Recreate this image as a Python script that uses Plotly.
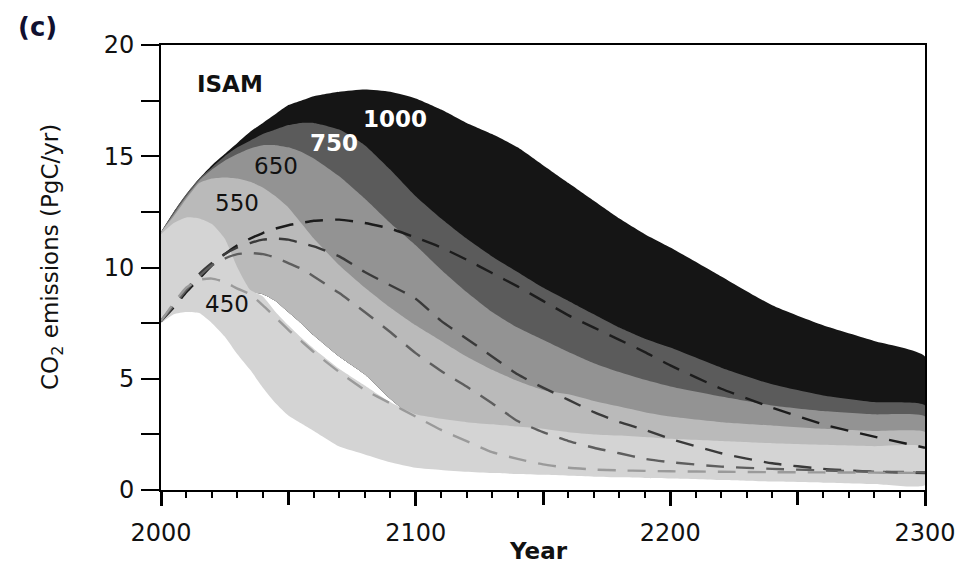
import plotly.graph_objects as go

# ---------------- data ----------------
YEARS = [2000, 2005, 2010, 2015, 2020, 2025, 2030, 2035, 2040, 2045, 2050, 2055, 2060,
         2070, 2080, 2090, 2100, 2110, 2120, 2130, 2140, 2150, 2160, 2170, 2180, 2190,
         2200, 2220, 2240, 2260, 2280, 2300]

# upper edges of the shaded ranges (PgC/yr)
UP_1000 = [11.6, 12.5, 13.3, 14.0, 14.6, 15.1, 15.6, 16.1, 16.5, 16.9, 17.3, 17.5, 17.7,
           17.9, 18.0, 17.9, 17.6, 17.1, 16.5, 16.0, 15.4, 14.6, 13.8, 13.0, 12.2, 11.5,
           10.9, 9.6, 8.3, 7.4, 6.7, 6.0]
UP_750 = [11.6, 12.5, 13.3, 14.0, 14.5, 15.0, 15.4, 15.7, 16.0, 16.2, 16.4, 16.5, 16.5,
          16.2, 15.5, 14.4, 13.2, 12.2, 11.3, 10.5, 9.8, 9.1, 8.5, 7.9, 7.3, 6.8,
          6.4, 5.5, 4.75, 4.25, 3.95, 3.8]
UP_650 = [11.6, 12.4, 13.2, 13.9, 14.4, 14.8, 15.1, 15.35, 15.5, 15.5, 15.4, 15.2, 14.9,
          14.1, 13.1, 12.0, 11.0, 9.9, 8.9, 8.0, 7.3, 6.75, 6.2, 5.7, 5.3, 4.95,
          4.65, 4.2, 3.8, 3.55, 3.4, 3.3]
UP_550 = [11.6, 12.3, 13.1, 13.8, 14.0, 14.05, 14.0, 13.85, 13.6, 13.2, 12.7, 12.0, 11.3,
          10.1, 9.1, 8.2, 7.4, 6.7, 6.0, 5.4, 4.9, 4.5, 4.3, 4.0, 3.75, 3.5,
          3.3, 3.05, 2.9, 2.75, 2.65, 2.6]
UP_450 = [11.5, 12.0, 12.25, 12.2, 11.95, 11.3, 10.0, 9.0, 8.7, 8.0, 7.4, 6.85, 6.35,
          5.45, 4.7, 3.95, 3.4, 3.2, 3.05, 2.95, 2.85, 2.75, 2.6, 2.5, 2.45, 2.38,
          2.3, 2.2, 2.1, 2.03, 1.97, 1.93]

# lower edges
LO_550 = [9.0, 9.3, 9.5, 9.5, 9.4, 9.2, 9.0, 8.9, 8.8, 8.5, 8.0, 7.5, 6.95,
          6.0, 5.2, 4.1, 3.2, 2.9, 2.7, 2.6, 2.5, 2.45, 2.4, 2.35, 2.3, 2.2,
          2.1, 2.0, 1.9, 1.8, 1.7, 1.6]
LO_450 = [7.5, 7.9, 8.0, 7.95, 7.5, 6.9, 6.1, 5.4, 4.6, 3.9, 3.35, 3.0, 2.65,
          1.95, 1.6, 1.25, 1.0, 0.9, 0.82, 0.76, 0.72, 0.68, 0.64, 0.6, 0.57, 0.54,
          0.52, 0.45, 0.38, 0.33, 0.27, 0.22]

# reference cases (dashed)
REF_1000 = [7.6, 8.2, 8.9, 9.5, 10.1, 10.6, 11.0, 11.3, 11.55, 11.75, 11.9, 12.0, 12.1,
            12.15, 12.0, 11.75, 11.35, 10.9, 10.35, 9.75, 9.15, 8.5, 7.85, 7.3, 6.75, 6.2,
            5.6, 4.55, 3.7, 2.95, 2.4, 1.9]
REF_750 = [7.6, 8.3, 9.0, 9.7, 10.2, 10.6, 10.9, 11.1, 11.25, 11.3, 11.25, 11.1, 10.95,
           10.5, 9.8, 9.2, 8.6, 7.6, 6.8, 6.0, 5.2, 4.6, 4.05, 3.5, 3.05, 2.7,
           2.3, 1.65, 1.2, 0.95, 0.82, 0.76]
REF_650 = [7.6, 8.3, 9.0, 9.6, 10.1, 10.4, 10.6, 10.65, 10.6, 10.45, 10.2, 9.95, 9.6,
           8.85, 8.0, 7.1, 6.15, 5.35, 4.65, 3.9, 3.1, 2.6, 2.2, 1.9, 1.65, 1.4,
           1.25, 1.05, 0.95, 0.88, 0.82, 0.8]
REF_550 = [7.6, 8.4, 9.1, 9.45, 9.5, 9.35, 9.05, 8.8, 8.3, 7.75, 7.2, 6.7, 6.2,
           5.3, 4.5, 3.9, 3.3, 2.7, 2.2, 1.7, 1.4, 1.15, 1.0, 0.92, 0.88, 0.86,
           0.84, 0.82, 0.8, 0.79, 0.78, 0.77]

LEVELS = ["1000", "750", "650", "550", "450"]
BAND_UPPER = [UP_1000, UP_750, UP_650, UP_550, UP_450]
BAND_LOWER = [LO_550, LO_550, LO_550, LO_550, LO_450]
BAND_COLORS = ["#151515", "#5b5b5b", "#939393", "#bababa", "#d4d4d4"]

REFS = [REF_1000, REF_750, REF_650, REF_550]
REF_COLORS = ["#1c1c1c", "#3a3a3a", "#5e5e5e", "#9a9a9a"]

X_LABEL_STEP = 100   # labelled ticks
X_MAJOR_STEP = 50    # long tick marks
X_MINOR_STEP = 10    # short tick marks

X_TITLE = "<b>Year</b>"
Y_TITLE = "CO<sub>2</sub> emissions (PgC/yr)"

# label positions (year, value)
LEVEL_LABELS = [("1000", 2092, 16.67, "white", True, 23),
                ("750", 2068, 15.6, "white", True, 23),
                ("650", 2045, 14.55, "#111111", False, 23),
                ("550", 2030, 12.9, "#111111", False, 23),
                ("450", 2026, 8.35, "#111111", False, 23)]

FONT = "DejaVu Sans"

fig = go.Figure()

for lvl, up, lo, col in zip(LEVELS, BAND_UPPER, BAND_LOWER, BAND_COLORS):
    fig.add_trace(go.Scatter(
        x=YEARS + YEARS[::-1], y=up + lo[::-1],
        fill="toself", fillcolor=col, mode="lines",
        line=dict(width=0, color=col, shape="spline", smoothing=0.5),
        hoverinfo="skip", showlegend=False, name=lvl))

for ref, col in zip(REFS, REF_COLORS):
    fig.add_trace(go.Scatter(
        x=YEARS, y=ref, mode="lines",
        line=dict(color=col, width=2.4, dash="18px,12px", shape="spline", smoothing=0.5),
        hoverinfo="skip", showlegend=False))

ann = []
for txt, xv, yv, col, bold, sz in LEVEL_LABELS:
    ann.append(dict(x=xv, y=yv, xref="x", yref="y", text=f"<b>{txt}</b>" if bold else txt,
                    showarrow=False, xanchor="center", yanchor="middle",
                    font=dict(family=FONT, size=sz, color=col)))
ann.append(dict(x=2027, y=18.25, xref="x", yref="y", text="<b>ISAM</b>", showarrow=False,
                xanchor="center", yanchor="middle",
                font=dict(family=FONT, size=23, color="#111111")))
ann.append(dict(x=-0.1623, y=1.0404, xref="paper", yref="paper", text="<b>(c)</b>",
                showarrow=False, xanchor="center", yanchor="middle",
                font=dict(family=FONT, size=26, color="#101030")))
ann.append(dict(x=-0.1427, y=0.5236, xref="paper", yref="paper", text=Y_TITLE,
                textangle=-90, showarrow=False, xanchor="center", yanchor="middle",
                font=dict(family=FONT, size=23, color="#111111")))
ann.append(dict(x=0.4935, y=-0.137, xref="paper", yref="paper", text=X_TITLE,
                showarrow=False, xanchor="center", yanchor="middle",
                font=dict(family=FONT, size=23, color="#111111")))

fig.update_layout(
    width=958, height=563,
    margin=dict(l=161, r=33, t=45, b=73, autoexpand=False),
    paper_bgcolor="white", plot_bgcolor="white",
    annotations=ann,
    font=dict(family=FONT, size=22, color="#111111"),
    xaxis=dict(
        range=[2000, 2300], tickmode="linear", tick0=2000, dtick=X_LABEL_STEP,
        ticks="outside", ticklen=14, tickwidth=2.5, tickcolor="black",
        minor=dict(dtick=X_MINOR_STEP, tick0=2000, ticks="outside", ticklen=6,
                   tickwidth=1.5, tickcolor="black"),
        showline=True, linewidth=2, linecolor="black", mirror=True, automargin=False,
        showgrid=False, zeroline=False, ticklabelstandoff=6,
        tickfont=dict(family=FONT, size=24, color="#111111")),
    xaxis2=dict(
        range=[2000, 2300], matches="x", overlaying="x", side="bottom", anchor="y",
        tickmode="linear", tick0=2000, dtick=X_MAJOR_STEP,
        ticks="outside", ticklen=14, tickwidth=2.5, tickcolor="black",
        showticklabels=False, showline=False, showgrid=False, zeroline=False,
        automargin=False),
    yaxis=dict(
        range=[0, 20], tickmode="linear", tick0=0, dtick=5,
        ticks="outside", ticklen=18, tickwidth=2, tickcolor="black",
        minor=dict(dtick=2.5, tick0=0, ticks="outside", ticklen=18, tickwidth=1.5,
                   tickcolor="black"),
        showline=True, linewidth=2, linecolor="black", mirror=True, automargin=False,
        showgrid=False, zeroline=False, ticklabelstandoff=2,
        tickfont=dict(family=FONT, size=24, color="#111111")),
)

# invisible helper trace so the secondary tick axis is drawn
fig.add_trace(go.Scatter(x=[YEARS[0], YEARS[-1]], y=[None, None], xaxis="x2", yaxis="y",
                         mode="lines", hoverinfo="skip", showlegend=False))

fig.write_html("out.html")
